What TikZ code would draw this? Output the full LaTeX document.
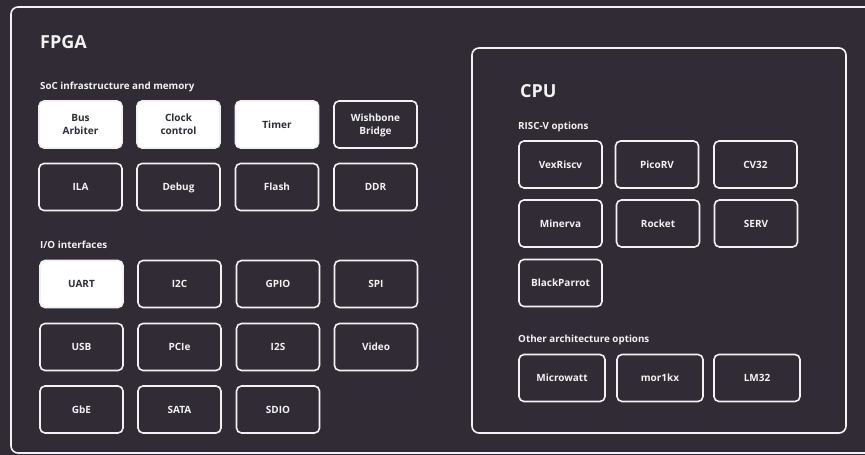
\documentclass[tikz,border=0pt]{standalone}
\usepackage{fontspec}
\setmainfont{Open Sans}
\definecolor{bg}{HTML}{302B34}
\definecolor{ln}{HTML}{F2F2F2}
\begin{document}
\begin{tikzpicture}[x=1pt,y=-1pt,
  blk/.style={draw=ln,line width=1.6pt,rounded corners=5pt,minimum width=83pt,minimum height=47pt,
    inner sep=0pt,align=center,font=\fontsize{10}{13.3}\selectfont\bfseries,text=ln,
    text height=7.4pt,text depth=0pt},
  two/.style={text height=20.7pt},
  wblk/.style={blk,fill=white,text=bg},
  wide/.style={minimum width=86pt},
  sect/.style={anchor=base west,inner sep=0pt,font=\fontsize{9.8}{11}\selectfont\bfseries,text=ln},
  ttl/.style={anchor=base west,inner sep=0pt,font=\fontsize{18}{19}\selectfont\bfseries,text=ln},
  frame/.style={draw=ln,line width=1.6pt,rounded corners=7pt}]
\fill[bg] (0,0) rectangle (865,455);
\useasboundingbox (0,0) rectangle (865,455);
\draw[frame] (11,7) rectangle (880,453);
\node[ttl] (fpga) at (40,48) {FPGA};
\node[sect] (soc) at (40,89.5) {SoC infrastructure and memory};
\node[wblk,two] (bus) at (80.5,124.5) {Bus\\Arbiter};
\node[wblk,two] (clk) at (178.5,124.5) {Clock\\control};
\node[wblk] (tmr) at (277,124.5) {Timer};
\node[blk,two] (wb) at (375.5,124.5) {Wishbone\\Bridge};
\node[blk] (ila) at (80.5,187) {ILA};
\node[blk] (dbg) at (178.5,187) {Debug};
\node[blk] (fl) at (277,187) {Flash};
\node[blk] (ddr) at (375.5,187) {DDR};
\node[sect] (io) at (40,248.5) {I/O interfaces};
\node[wblk] (uart) at (81.5,284) {UART};
\node[blk] (i2c) at (179.5,284) {I2C};
\node[blk] (gpio) at (278,284) {GPIO};
\node[blk] (spi) at (376,284) {SPI};
\node[blk] (usb) at (81.5,347) {USB};
\node[blk] (pcie) at (179.5,347) {PCIe};
\node[blk] (i2s) at (278,347) {I2S};
\node[blk] (vid) at (376,347) {Video};
\node[blk] (gbe) at (81.5,409.5) {GbE};
\node[blk] (sata) at (179.5,409.5) {SATA};
\node[blk] (sdio) at (278,409.5) {SDIO};
\draw[frame] (472,48) rectangle (846,433);
\node[ttl] (cpu) at (520,97) {CPU};
\node[sect] (rv) at (518,129.5) {RISC-V options};
\node[blk] (vex) at (560.5,164.5) {VexRiscv};
\node[blk] (pico) at (657,164.5) {PicoRV};
\node[blk] (cv) at (755.5,164.5) {CV32};
\node[blk] (min) at (560.5,223.5) {Minerva};
\node[blk] (rock) at (658,223.5) {Rocket};
\node[blk] (serv) at (756,223.5) {SERV};
\node[blk] (bp) at (560.5,283) {BlackParrot};
\node[sect] (oth) at (518,342.5) {Other architecture options};
\node[blk,wide] (mw) at (562,378) {Microwatt};
\node[blk,wide] (mor) at (660,378) {mor1kx};
\node[blk,wide] (lm) at (757,378) {LM32};
\end{tikzpicture}
\end{document}
